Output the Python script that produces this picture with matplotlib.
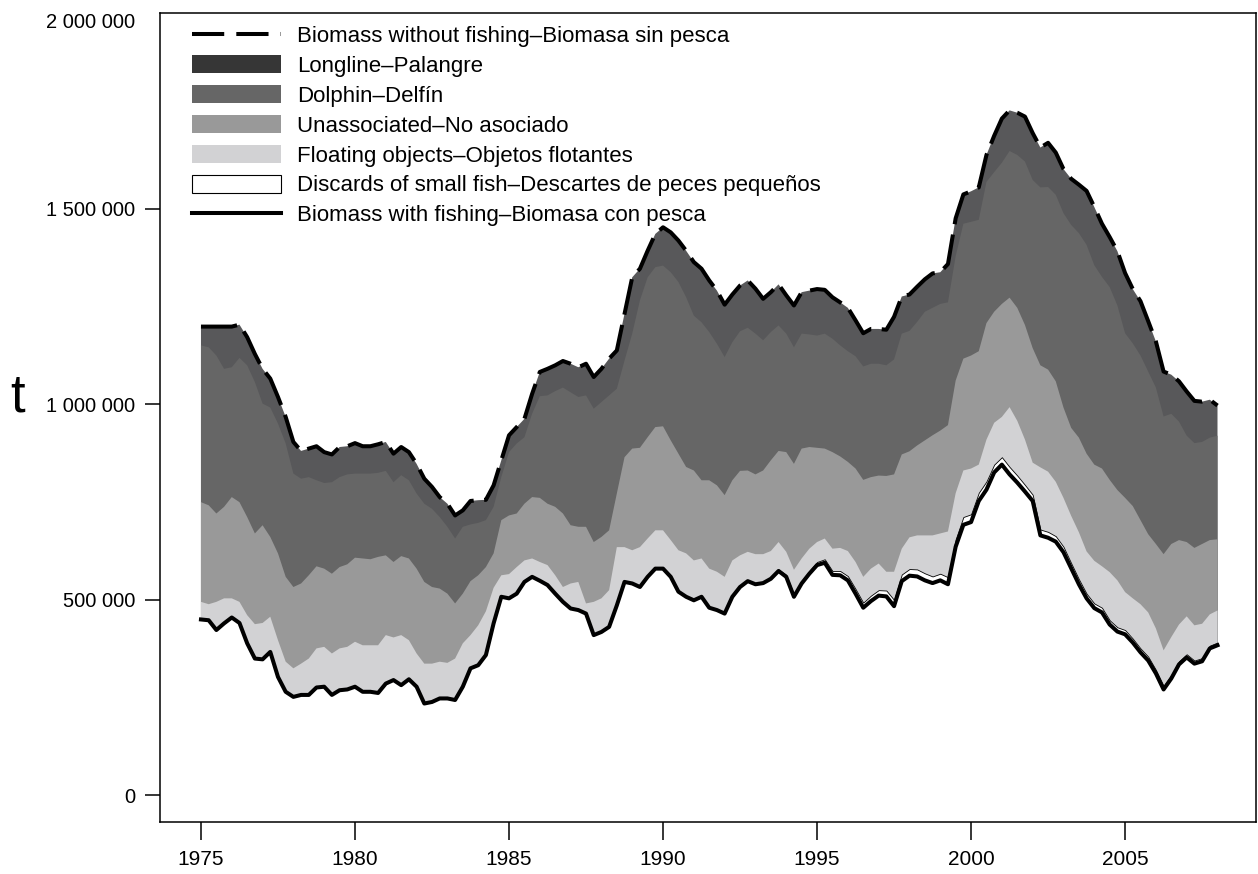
import numpy as np
import matplotlib
matplotlib.use("Agg")
import matplotlib.pyplot as plt
import matplotlib.transforms as mtransforms
from matplotlib.patches import Patch
from matplotlib.lines import Line2D

plt.rcParams['font.family'] = ['Liberation Sans', 'DejaVu Sans']

# Quarterly values, thousands of tonnes, 1975.0 ... 2008.0
start_year = 1975
quarters_per_year = 4

# Biomass without fishing (top of the stack)
biomass_without_fishing = [
    1198, 1198, 1198, 1198, 1198, 1203, 1171, 1128, 1090, 1065, 1018, 967, 903, 880, 886, 892, 877, 871, 890, 892, 900, 892, 892,
    897, 903, 873, 890, 877, 847, 809, 788, 762, 745, 715, 728, 752, 754, 755, 792, 856, 920, 941, 962, 1026, 1082,
    1090, 1099, 1110, 1103, 1094, 1103, 1069, 1090, 1116, 1137, 1231, 1324, 1346, 1392, 1435, 1452, 1439, 1418, 1392, 1363, 1346, 1316,
    1290, 1254, 1280, 1303, 1316, 1295, 1269, 1286, 1306, 1278, 1252, 1286, 1290, 1294, 1292, 1273, 1260, 1246, 1214, 1181, 1192, 1192,
    1190, 1223, 1275, 1280, 1300, 1319, 1334, 1337, 1358, 1475, 1536, 1544, 1554, 1637, 1686, 1730, 1751, 1745, 1735, 1693, 1656, 1668,
    1643, 1601, 1576, 1561, 1545, 1504, 1461, 1427, 1391, 1335, 1294, 1263, 1212, 1160, 1083, 1075, 1058, 1032, 1008, 1006, 1011, 996,
]
# Upper edge of the dolphin band (lower edge of longline band)
dolphin_top = [
    1150, 1145, 1124, 1090, 1094, 1118, 1099, 1056, 1001, 991, 950, 899, 822, 809, 813, 805, 798, 800, 813, 820, 822, 822, 822,
    824, 829, 800, 818, 805, 771, 745, 732, 711, 686, 656, 686, 692, 696, 703, 737, 813, 877, 899, 915, 975, 1020,
    1022, 1033, 1042, 1030, 1018, 1022, 988, 1005, 1022, 1039, 1111, 1180, 1265, 1324, 1350, 1354, 1337, 1312, 1273, 1226, 1209, 1184,
    1154, 1120, 1158, 1186, 1195, 1180, 1163, 1184, 1201, 1180, 1145, 1180, 1178, 1175, 1180, 1167, 1150, 1135, 1122, 1096, 1103, 1103,
    1099, 1114, 1180, 1187, 1210, 1236, 1246, 1256, 1260, 1378, 1461, 1466, 1471, 1568, 1593, 1617, 1647, 1637, 1620, 1573, 1554, 1555,
    1535, 1488, 1458, 1437, 1407, 1355, 1325, 1299, 1252, 1181, 1155, 1124, 1083, 1042, 968, 975, 955, 919, 900, 903, 914, 919,
]
# Upper edge of the unassociated band
unassociated_top = [
    749, 741, 720, 737, 762, 749, 711, 669, 690, 660, 618, 558, 532, 541, 562, 585, 579, 566, 583, 590, 607, 605, 603,
    609, 613, 596, 611, 605, 579, 545, 532, 528, 515, 490, 515, 547, 562, 583, 618, 703, 715, 720, 745, 762, 760,
    745, 737, 720, 690, 686, 686, 647, 660, 677, 771, 864, 886, 888, 915, 941, 943, 907, 873, 839, 830, 805, 805,
    792, 767, 805, 829, 830, 820, 830, 856, 880, 877, 847, 886, 890, 888, 886, 877, 866, 852, 835, 806, 813, 817,
    816, 820, 871, 879, 894, 907, 920, 932, 946, 1060, 1116, 1124, 1135, 1207, 1236, 1256, 1272, 1246, 1202, 1143, 1099, 1088,
    1058, 991, 939, 914, 873, 845, 835, 806, 780, 760, 739, 703, 667, 642, 616, 642, 652, 647, 632, 642, 652, 654,
]
# Upper edge of the floating-object band
floating_top = [
    494, 488, 494, 503, 503, 494, 460, 437, 440, 456, 396, 341, 324, 336, 349, 375, 379, 362, 375, 379, 392, 383, 383,
    383, 409, 403, 409, 396, 362, 336, 336, 341, 338, 349, 388, 409, 434, 470, 530, 562, 565, 583, 600, 605, 596,
    588, 562, 532, 541, 545, 490, 494, 503, 524, 634, 634, 626, 634, 656, 677, 677, 652, 626, 618, 600, 605, 579,
    571, 558, 600, 613, 622, 616, 616, 624, 647, 622, 576, 605, 630, 647, 656, 630, 632, 624, 596, 558, 579, 592,
    571, 571, 630, 659, 664, 664, 664, 669, 674, 772, 830, 835, 845, 909, 952, 967, 992, 957, 909, 850, 838, 827,
    801, 760, 714, 672, 623, 599, 585, 570, 549, 519, 503, 488, 467, 426, 370, 404, 436, 457, 434, 438, 462, 472,
]
# Discards of small fish (thickness of the white band above the solid line)
discards = [
    0, 0, 0, 0, 0, 0, 0, 0, 0, 0, 0, 0, 0, 0, 0, 0, 0, 0, 0, 0, 0, 0, 0, 0,
    0, 0, 0, 0, 0, 0, 0, 0, 0, 0, 0, 0, 0, 0, 0, 0, 0, 0, 0, 0, 0, 0, 0, 0,
    0, 0, 0, 0, 0, 0, 0, 0, 0, 0, 0, 0, 0, 0, 0, 0, 0, 0, 0, 0, 0, 0, 0, 0,
    2, 3, 4, 4, 5, 6, 6, 7,
    8, 9, 10, 11, 11, 12, 13, 14,
    14, 15, 16, 17, 17, 18, 18, 17, 17, 18,
    19, 20, 20, 21, 21, 20, 19, 19, 18,
    17, 16, 15, 15, 14, 14,
    13, 13, 12, 12, 12, 11, 11, 11, 10, 10, 10, 9, 9, 9, 8, 8, 8, 8, 7, 7,
]
# Biomass with fishing (solid line)
biomass_with_fishing = [
    449, 447, 422, 439, 454, 440, 388, 349, 347, 366, 302, 264, 251, 256, 256, 275, 277, 256, 268, 270, 277, 264, 264,
    261, 285, 294, 281, 296, 277, 234, 238, 247, 247, 243, 277, 324, 332, 358, 439, 507, 503, 515, 545, 558, 548,
    537, 515, 494, 477, 473, 464, 409, 417, 430, 485, 545, 541, 532, 558, 579, 579, 558, 520, 507, 498, 507, 479,
    473, 464, 507, 532, 547, 539, 542, 553, 573, 558, 507, 541, 566, 588, 594, 563, 562, 549, 515, 479, 496, 510,
    508, 483, 547, 561, 559, 549, 542, 549, 539, 635, 691, 698, 752, 781, 825, 845, 820, 799, 776, 752, 664, 658,
    648, 621, 580, 539, 503, 478, 467, 436, 418, 411, 390, 365, 344, 311, 270, 298, 334, 352, 336, 342, 375, 383,
]

legend_labels = [
    "Biomass without fishing\u2013Biomasa sin pesca",
    "Longline\u2013Palangre",
    "Dolphin\u2013Delf\u00edn",
    "Unassociated\u2013No asociado",
    "Floating objects\u2013Objetos flotantes",
    "Discards of small fish\u2013Descartes de peces peque\u00f1os",
    "Biomass with fishing\u2013Biomasa con pesca",
]
year_ticks = [1975, 1980, 1985, 1990, 1995, 2000, 2005]
y_ticks = [0, 500000, 1000000, 1500000, 2000000]
y_tick_labels = ["0", "500 000", "1 000 000", "1 500 000", "2 000 000"]

c_longline = '#58585a'
c_longline_legend = '#363636'
c_dolphin = '#666666'
c_unassoc = '#999999'
c_float = '#d2d2d4'

kt = 1000.0
n = len(biomass_without_fishing)
q = start_year + np.arange(n) / quarters_per_year
top = np.array(biomass_without_fishing) * kt
dol = np.array(dolphin_top) * kt
una = np.array(unassociated_top) * kt
flo = np.array(floating_top) * kt
withf = np.array(biomass_with_fishing) * kt
disc_top = withf + np.array(discards) * kt

W, H = 1258, 874
fig = plt.figure(figsize=(W / 100, H / 100), dpi=100)
ax = fig.add_axes([160 / W, 1 - 822 / H, (1256 - 160) / W, (822 - 13) / H])

ax.fill_between(q, withf, top, facecolor=c_longline, linewidth=0)
ax.fill_between(q, withf, dol, facecolor=c_dolphin, linewidth=0)
ax.fill_between(q, withf, una, facecolor=c_unassoc, linewidth=0)
ax.fill_between(q, withf, flo, facecolor=c_float, linewidth=0)
ax.fill_between(q, withf, disc_top, facecolor='white', edgecolor='black', linewidth=0.6)
ax.plot(q, withf, color='black', linewidth=2.9)
ax.plot(q, top, color='black', linewidth=2.9, dashes=(9, 2.6))

ax.set_xlim(1973.67, 2009.25)
ax.set_ylim(-69000, 2000000)
ax.set_xticks(year_ticks)
ax.set_xticklabels([str(y) for y in year_ticks])
ax.set_yticks(y_ticks)
ax.set_yticklabels(y_tick_labels)
ax.tick_params(axis='y', direction='out', length=11, width=1.1, labelsize=14.5, pad=7)
ax.tick_params(axis='x', direction='out', length=13, width=1.1, labelsize=15, pad=7)
top_tick = ax.yaxis.get_major_ticks()[-1]
top_tick.tick1line.set_visible(False)
top_tick.label1.set_transform(top_tick.label1.get_transform() +
                              mtransforms.ScaledTranslation(0, -0.07, fig.dpi_scale_trans))
for s in ax.spines.values():
    s.set_linewidth(1.1)

fig.text(18 / W, 1 - 398 / H, "t", fontsize=38, ha='center', va='center')

handles = [
    Line2D([], [], color='black', linewidth=2.9, dashes=(8, 3)),
    Patch(facecolor=c_longline_legend, edgecolor='none'),
    Patch(facecolor=c_dolphin, edgecolor='none'),
    Patch(facecolor=c_unassoc, edgecolor='none'),
    Patch(facecolor=c_float, edgecolor='none'),
    Patch(facecolor='white', edgecolor='black', linewidth=0.8),
    Line2D([], [], color='black', linewidth=2.9),
]
ax.legend(handles, legend_labels, loc='upper left', bbox_to_anchor=(0.029, 0.985),
          frameon=False, fontsize=16, handlelength=4.0, handleheight=0.9,
          handletextpad=0.72, labelspacing=0.36, borderpad=0, borderaxespad=0)

fig.savefig("out.png", dpi=100)
